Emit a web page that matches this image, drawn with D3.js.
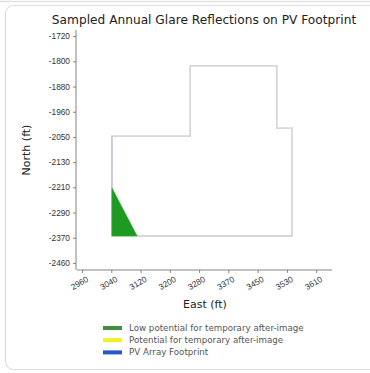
<!DOCTYPE html>
<html><head><meta charset="utf-8">
<script src="https://cdn.jsdelivr.net/npm/d3@7"></script>
<style>body{margin:0;background:#fff;}svg{display:block;font-family:"DejaVu Sans",sans-serif;}</style>
</head><body>
<svg id="c" width="370" height="373"></svg>
<script>
const title = "Sampled Annual Glare Reflections on PV Footprint";
const xTickLabels = ["2960","3040","3120","3200","3280","3370","3450","3530","3610"];
const yTickLabels = ["-1720","-1800","-1880","-1960","-2050","-2130","-2210","-2290","-2370","-2460"];
const xFirstTick = 2960, xLastTick = 3610;
const yFirstTick = -1720, yLastTick = -2460;
const footprintE = [3043, 3043, 3260, 3260, 3501, 3501, 3543, 3543];
const footprintN = [-2372, -2046, -2046, -1817, -1817, -2020, -2020, -2372];
const glareLowE = [3043, 3043, 3113];
const glareLowN = [-2215, -2372, -2372];
const legendLabels = ["Low potential for temporary after-image","Potential for temporary after-image","PV Array Footprint"];
const legendColors = ["#3f8f3f","#f2f21a","#2a55c8"];

const svg = d3.select("#c");
// card
svg.append("line").attr("x1",0).attr("x2",370).attr("y1",1.5).attr("y2",1.5).attr("stroke","#e2e2e2").attr("stroke-width",1.5);
svg.append("rect").attr("x",5.5).attr("y",5.5).attr("width",380).attr("height",364).attr("rx",8)
  .attr("fill","#fff").attr("stroke","#dedede").attr("stroke-width",1.2);

const x = d3.scaleLinear().domain([2946, 3654]).range([77, 332]);
const y = d3.scaleLinear().domain([-2483, -1700]).range([270, 30]);

const xTicks = xTickLabels.map((_, i) => xFirstTick + (xLastTick - xFirstTick) * i / (xTickLabels.length - 1));
const yTicks = yTickLabels.map((_, i) => yFirstTick + (yLastTick - yFirstTick) * i / (yTickLabels.length - 1));

// footprint
const line = d3.line().x(d => x(d[0])).y(d => y(d[1]));
const fp = footprintE.map((e, i) => [e, footprintN[i]]);
svg.append("path").attr("d", line(fp) + "Z").attr("fill","none").attr("stroke","#d8d8dc").attr("stroke-width",1.8);
svg.append("path").attr("d", line(fp.slice(0,2))).attr("fill","none").attr("stroke","#cabed6").attr("stroke-width",1.2);
const gl = glareLowE.map((e, i) => [e, glareLowN[i]]);
svg.append("path").attr("d", line(gl) + "Z").attr("fill","#1e9a22").attr("stroke","#2bb02b").attr("stroke-width",0.6);

// axes
const xAxis = d3.axisBottom(x).tickValues(xTicks).tickSize(3).tickFormat((d, i) => xTickLabels[i]);
const gx = svg.append("g").attr("transform","translate(0,270)").call(xAxis);
gx.select(".domain").attr("d","M77,0H332").attr("stroke","#666").attr("stroke-width",0.8);
gx.selectAll(".tick line").attr("stroke","#666").attr("stroke-width",0.8);
gx.selectAll(".tick text").attr("fill","#333").attr("font-size",8.3)
  .attr("text-anchor","middle").attr("dy","0.35em").attr("y",0)
  .attr("transform","translate(-3,13) rotate(-30)");

const yAxis = d3.axisLeft(y).tickValues(yTicks).tickSize(3).tickFormat((d, i) => yTickLabels[i]);
const gy = svg.append("g").attr("transform","translate(76,0)").call(yAxis);
gy.select(".domain").attr("d","M0,30V270").attr("stroke","#666").attr("stroke-width",0.8);
gy.selectAll(".tick line").attr("stroke","#666").attr("stroke-width",0.8);
gy.selectAll(".tick text").attr("fill","#333").attr("font-size",8.3).attr("x",-6);

// labels
svg.append("text").attr("x",204).attr("y",24).attr("text-anchor","middle").attr("font-size",12.2).attr("fill","#222").text(title);
svg.append("text").attr("x",205).attr("y",308).attr("text-anchor","middle").attr("font-size",11).attr("fill","#222").text("East (ft)");
svg.append("text").attr("transform","translate(30,150) rotate(-90)").attr("text-anchor","middle").attr("font-size",11).attr("fill","#222").text("North (ft)");

// legend
const lg = svg.append("g");
legendLabels.forEach((t, i) => {
  const yy = 328 + i * 12.2;
  lg.append("rect").attr("x",103).attr("y",yy-2).attr("width",19).attr("height",4).attr("fill",legendColors[i]);
  lg.append("text").attr("x",129).attr("y",yy+2.8).attr("font-size",8.7).attr("fill","#555").text(t);
});
</script>
</body></html>
